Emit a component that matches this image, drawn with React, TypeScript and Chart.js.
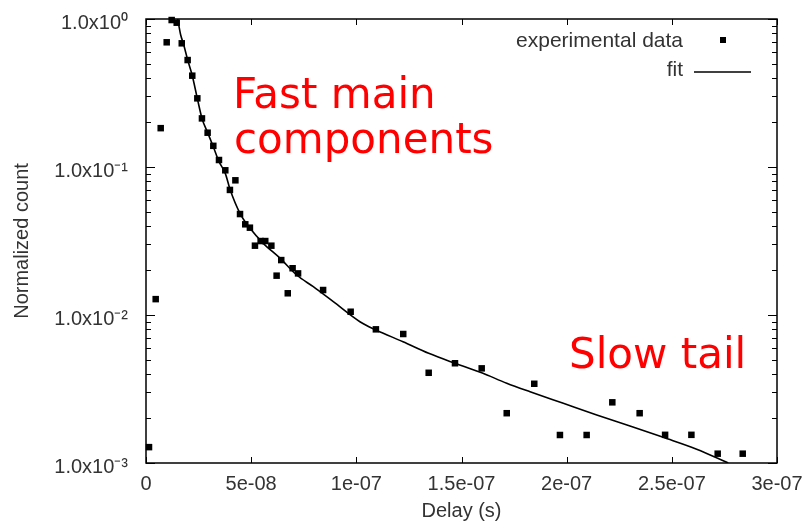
import React, { useEffect, useRef } from 'react';
import { Chart, registerables } from 'chart.js';

Chart.register(...registerables);

// Experimental data (delay in s, normalized count)
const expDelay = [
  1.43e-9, 4.61e-9, 6.99e-9, 9.84e-9, 1.22e-8, 1.46e-8, 1.70e-8, 1.98e-8, 2.20e-8, 2.44e-8,
  2.66e-8, 2.93e-8, 3.20e-8, 3.47e-8, 3.77e-8, 3.99e-8, 4.25e-8, 4.47e-8, 4.72e-8, 4.94e-8,
  5.18e-8, 5.45e-8, 5.67e-8, 5.96e-8, 6.21e-8, 6.43e-8, 6.74e-8, 6.97e-8, 7.23e-8, 8.42e-8,
  9.73e-8, 1.093e-7, 1.223e-7, 1.344e-7, 1.469e-7, 1.596e-7, 1.715e-7, 1.846e-7, 1.968e-7, 2.095e-7,
  2.217e-7, 2.347e-7, 2.468e-7, 2.593e-7, 2.718e-7, 2.837e-7,
];
const expCount = [
  0.00128, 0.0128, 0.183, 0.696, 0.984, 0.944, 0.685, 0.528, 0.414, 0.291,
  0.213, 0.1705, 0.139, 0.1115, 0.095, 0.070, 0.0813, 0.0481, 0.041, 0.0389,
  0.0294, 0.0316, 0.0316, 0.0294, 0.01844, 0.0235, 0.01402, 0.0207, 0.0191, 0.01475,
  0.01052, 0.0080, 0.00744, 0.00407, 0.00472, 0.00436, 0.00217, 0.00343, 0.001546, 0.001546,
  0.00257, 0.00217, 0.00155, 0.00155, 0.001156, 0.001156,
];

// Fit curve
const fitDelay = [
  1.507e-8, 1.65e-8, 1.773e-8, 1.983e-8, 2.201e-8, 2.439e-8, 2.662e-8, 2.933e-8, 3.2e-8, 3.471e-8,
  3.77e-8, 3.994e-8, 4.469e-8, 4.945e-8, 5.577e-8, 6.371e-8, 7.165e-8, 7.954e-8, 8.905e-8, 1.017e-7,
  1.093e-7, 1.222e-7, 1.344e-7, 1.469e-7, 1.596e-7, 1.715e-7, 1.826e-7, 1.984e-7, 2.143e-7, 2.301e-7,
  2.459e-7, 2.618e-7, 2.768e-7,
];
const fitCount = [
  1.0, 0.779, 0.685, 0.528, 0.414, 0.291, 0.213, 0.1705, 0.137, 0.1086,
  0.0906, 0.0707, 0.0486, 0.0385, 0.0305, 0.0242, 0.01863, 0.01553, 0.0123, 0.00901,
  0.00792, 0.0066, 0.00551, 0.00472, 0.00407, 0.00346, 0.00303, 0.00253, 0.00211, 0.00178,
  0.00149, 0.00124, 0.001,
];

const xTickValues = [0, 5e-8, 1e-7, 1.5e-7, 2e-7, 2.5e-7, 3e-7];
const xTickLabels = ['0', '5e-08', '1e-07', '1.5e-07', '2e-07', '2.5e-07', '3e-07'];
const yDecades = [1e-3, 1e-2, 1e-1, 1];
const yDecadeLabels = ['1.0x10\u207B\u00B3', '1.0x10\u207B\u00B2', '1.0x10\u207B\u00B9', '1.0x10\u2070'];
const yMinorMultipliers = [2, 3, 4, 5, 6, 7, 8, 9];

const seriesNames = ['experimental data', 'fit'];
const xTitle = 'Delay (s)';
const yTitle = 'Normalized count';
const noteFast = ['Fast main', 'components'];
const noteSlow = 'Slow tail';

const FONT = '"Liberation Sans", Arial, Helvetica, sans-serif';
const TEXT = '#333333';

const decoPlugin = {
  id: 'deco',
  beforeDatasetsDraw(chart: any) {
    const { ctx, chartArea: a, scales } = chart;
    ctx.save();
    ctx.strokeStyle = '#000';
    ctx.lineWidth = 1;
    scales.x.ticks.forEach((t: any) => {
      const px = Math.round(scales.x.getPixelForValue(t.value)) + 0.5;
      ctx.beginPath();
      ctx.moveTo(px, a.bottom);
      ctx.lineTo(px, a.bottom - 6);
      ctx.moveTo(px, a.top);
      ctx.lineTo(px, a.top + 6);
      ctx.stroke();
    });
    scales.y.ticks.forEach((t: any) => {
      const py = Math.round(scales.y.getPixelForValue(t.value)) + 0.5;
      const len = t.major ? 9 : 5;
      ctx.beginPath();
      ctx.moveTo(a.left, py);
      ctx.lineTo(a.left + len, py);
      ctx.moveTo(a.right, py);
      ctx.lineTo(a.right - len, py);
      ctx.stroke();
    });
    ctx.lineWidth = 1.5;
    ctx.strokeRect(a.left, a.top, a.right - a.left, a.bottom - a.top);
    ctx.restore();
  },
  afterDraw(chart: any) {
    const { ctx } = chart;
    ctx.save();
    ctx.fillStyle = '#ff0000';
    ctx.font = '42px "DejaVu Sans", sans-serif';
    ctx.textAlign = 'left';
    ctx.textBaseline = 'alphabetic';
    ctx.fillText(noteFast[0], 233, 108);
    ctx.fillText(noteFast[1], 234, 153);
    ctx.fillText(noteSlow, 569, 368);
    ctx.font = '21px ' + FONT;
    ctx.fillStyle = TEXT;
    ctx.textAlign = 'right';
    ctx.textBaseline = 'middle';
    ctx.fillText(seriesNames[0], 683, 41);
    ctx.fillText(seriesNames[1], 683, 70);
    ctx.fillStyle = '#000';
    ctx.fillRect(720, 37, 6, 6);
    ctx.strokeStyle = '#000';
    ctx.lineWidth = 1.5;
    ctx.beginPath();
    ctx.moveTo(694, 72);
    ctx.lineTo(751, 72);
    ctx.stroke();
    ctx.restore();
  },
};

export default function App() {
  const ref = useRef<HTMLCanvasElement>(null);
  useEffect(() => {
    document.body.style.margin = '0';
    const expPoints = expDelay.map((x, i) => ({ x, y: expCount[i] }));
    const fitPoints = fitDelay.map((x, i) => ({ x, y: fitCount[i] }));
    const yTicks: number[] = [];
    yDecades.forEach((d, i) => {
      yTicks.push(d);
      if (i < yDecades.length - 1) yMinorMultipliers.forEach((m) => yTicks.push(m * d));
    });
    const chart = new Chart(ref.current as HTMLCanvasElement, {
      type: 'scatter',
      data: {
        datasets: [
          {
            label: seriesNames[0],
            data: expPoints,
            showLine: false,
            pointStyle: 'rect',
            pointRadius: 4.6,
            pointBackgroundColor: '#000',
            pointBorderColor: '#000',
            pointBorderWidth: 0,
            clip: false as any,
          },
          {
            label: seriesNames[1],
            data: fitPoints,
            showLine: true,
            pointRadius: 0,
            borderColor: '#000',
            borderWidth: 1.6,
            cubicInterpolationMode: 'monotone',
            fill: false,
          },
        ],
      },
      options: {
        responsive: false,
        animation: false,
        devicePixelRatio: 1,
        layout: { padding: { top: 19, right: 29, left: 0, bottom: 0 } },
        plugins: {
          legend: { display: false },
          tooltip: { enabled: false },
        },
        scales: {
          x: {
            type: 'linear',
            position: 'bottom',
            min: 0,
            max: 3e-7,
            grid: { display: false },
            border: { display: false },
            afterBuildTicks: (s: any) => {
              s.ticks = xTickValues.map((v) => ({ value: v }));
            },
            afterFit: (s: any) => {
              s.height = 60;
              s.paddingLeft = 0;
              s.paddingRight = 0;
            },
            ticks: {
              autoSkip: false,
              maxRotation: 0,
              padding: 1,
              color: TEXT,
              font: { family: FONT, size: 20 },
              callback: (_v: any, i: number) => xTickLabels[i],
            },
            title: {
              display: true,
              text: xTitle,
              color: TEXT,
              font: { family: FONT, size: 20, lineHeight: 1.2 },
              padding: { top: 0, bottom: 0 },
            },
          },
          y: {
            type: 'logarithmic',
            min: 1e-3,
            max: 1,
            grid: { display: false },
            border: { display: false },
            afterBuildTicks: (s: any) => {
              s.ticks = yTicks.map((v) => ({ value: v, major: yDecades.indexOf(v) >= 0 }));
            },
            afterFit: (s: any) => {
              s.width = 146;
              s.paddingTop = 0;
              s.paddingBottom = 0;
            },
            ticks: {
              autoSkip: false,
              padding: 10,
              labelOffset: 4,
              color: TEXT,
              font: { family: FONT, size: 20 },
              callback: (v: any) => {
                const k = yDecades.findIndex((d) => Math.abs(Number(v) / d - 1) < 1e-6);
                return k >= 0 ? yDecadeLabels[k] : '';
              },
            },
            title: {
              display: true,
              text: yTitle,
              color: TEXT,
              font: { family: FONT, size: 20, lineHeight: 1.2 },
              padding: { top: 10, bottom: 0 },
            },
          },
        },
      },
      plugins: [decoPlugin],
    } as any);
    return () => chart.destroy();
  }, []);
  return (
    <canvas
      ref={ref}
      width={806}
      height={523}
      style={{ display: 'block', width: 806, height: 523 }}
    />
  );
}
